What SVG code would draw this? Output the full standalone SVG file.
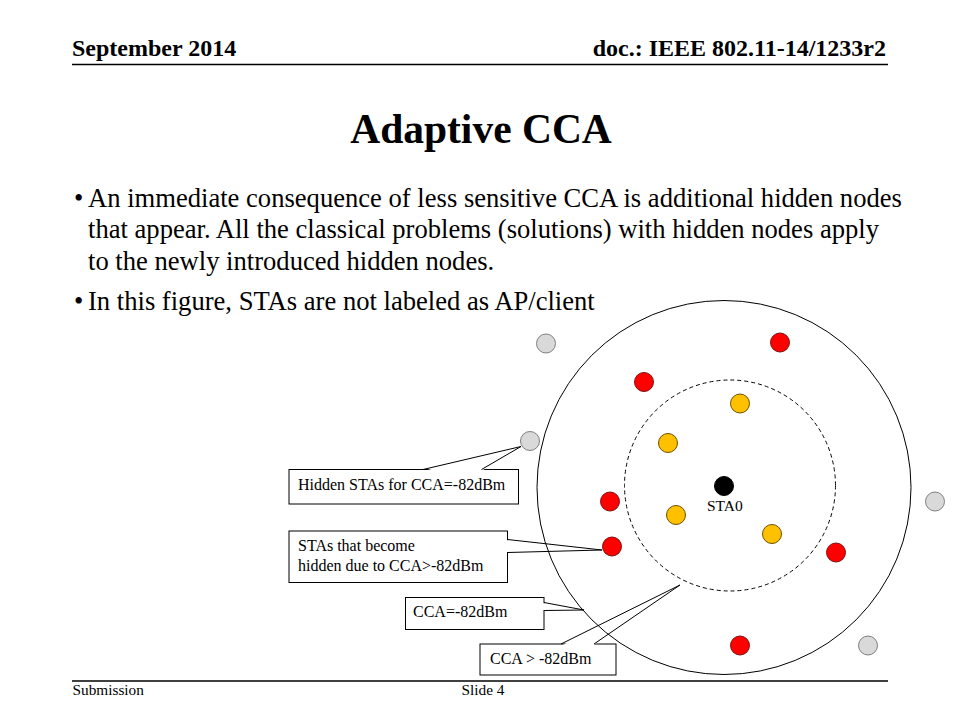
<svg xmlns="http://www.w3.org/2000/svg" width="960" height="720" viewBox="0 0 960 720">
<defs>
<style>
.serif{font-family:"Liberation Serif","Times New Roman",serif;fill:#000}
.hdr{font-size:24px;font-weight:bold}
.title{font-size:41.5px;font-weight:bold}
.body{font-size:26.6px}
.lbl{font-size:16px}
.foot{font-size:15.3px}
.rule{stroke:#000;stroke-width:1.5;fill:none}
.box{fill:#fff;stroke:#000;stroke-width:1}
.ptr{fill:none;stroke:#000;stroke-width:1}
.wedge{fill:#fff;stroke:none}
.red{fill:#FF0000;stroke:#7F1010;stroke-width:1}
.yel{fill:#FFC000;stroke:#6B5200;stroke-width:1}
.gry{fill:#D9D9D9;stroke:#7F7F7F;stroke-width:1}
.blk{fill:#000;stroke:#000;stroke-width:1}
.ring{fill:none;stroke:#000;stroke-width:1}
.dash{fill:none;stroke:#000;stroke-width:1;stroke-dasharray:4 3}
</style>
</defs>
<rect width="960" height="720" fill="#fff"/>

<g id="header">
<text class="serif hdr" x="72" y="56">September 2014</text>
<text class="serif hdr" x="886" y="56" text-anchor="end">doc.: IEEE 802.11-14/1233r2</text>
<line class="rule" x1="72" y1="64.5" x2="888" y2="64.5"/>
</g>

<g id="title">
<text class="serif title" x="481" y="143" text-anchor="middle">Adaptive CCA</text>
</g>

<g id="bullets">
<text class="serif body" x="74" y="206.5">•</text>
<text class="serif body" x="88" y="206.5">An immediate consequence of less sensitive CCA is additional hidden nodes</text>
<text class="serif body" x="88" y="238">that appear. All the classical problems (solutions) with hidden nodes apply</text>
<text class="serif body" x="88" y="270">to the newly introduced hidden nodes.</text>
<text class="serif body" x="74" y="310">•</text>
<text class="serif body" x="88" y="310">In this figure, STAs are not labeled as AP/client</text>
</g>

<g id="callout-hidden">
<rect class="box" x="289" y="469.5" width="229.5" height="34.5"/>
<text class="serif lbl" x="298" y="489.5">Hidden STAs for CCA=-82dBm</text>
</g>
<g id="callout-become">
<rect class="box" x="289" y="531" width="218.5" height="51.5"/>
<text class="serif lbl" x="298" y="551">STAs that become</text>
<text class="serif lbl" x="298" y="571">hidden due to CCA&gt;-82dBm</text>
</g>
<g id="callout-cca">
<rect class="box" x="405.5" y="597.5" width="138.5" height="32"/>
<text class="serif lbl" x="413" y="617">CCA=-82dBm</text>
</g>
<g id="callout-ccagt">
<rect class="box" x="480" y="644" width="136" height="31"/>
<text class="serif lbl" x="490" y="664">CCA &gt; -82dBm</text>
</g>

<g id="connectors">
<polygon class="wedge" points="423.5,471 521,446.5 481.5,471"/>
<polyline class="ptr" points="423,469.5 521,446.5 481.5,469.5"/>
<polygon class="wedge" points="506,540 602,550 506,552"/>
<polyline class="ptr" points="507.5,539.5 602,550 507.5,552.5"/>
<polygon class="wedge" points="542.5,603 584,610 542.5,610"/>
<polyline class="ptr" points="544,602.5 584,610 544,610.5"/>
<polygon class="wedge" points="562,645.5 680,585 593,645.5"/>
<polyline class="ptr" points="561,644 680,585 594,644"/>
</g>

<g id="range-cca">
<circle class="ring" cx="724" cy="487.5" r="187"/>
</g>
<g id="range-ccagt">
<circle class="dash" cx="730" cy="485.5" r="105.5"/>
</g>

<g id="sta0">
<circle class="blk" cx="724" cy="486" r="9.5"/>
<text class="serif" font-size="15.5" x="707" y="511">STA0</text>
</g>

<g id="sta-grey-1"><circle class="gry" cx="546" cy="343.5" r="9.5"/></g>
<g id="sta-grey-2"><circle class="gry" cx="530" cy="441" r="9.5"/></g>
<g id="sta-grey-3"><circle class="gry" cx="935" cy="501.5" r="9.5"/></g>
<g id="sta-grey-4"><circle class="gry" cx="868" cy="645.5" r="9.5"/></g>

<g id="sta-red-1"><circle class="red" cx="780" cy="342.5" r="9.5"/></g>
<g id="sta-red-2"><circle class="red" cx="644" cy="382" r="9.5"/></g>
<g id="sta-red-3"><circle class="red" cx="610" cy="501.5" r="9.5"/></g>
<g id="sta-red-4"><circle class="red" cx="612" cy="546.5" r="9.5"/></g>
<g id="sta-red-5"><circle class="red" cx="836" cy="552.5" r="9.5"/></g>
<g id="sta-red-6"><circle class="red" cx="740" cy="645.5" r="9.5"/></g>

<g id="sta-yellow-1"><circle class="yel" cx="740" cy="403.5" r="9.5"/></g>
<g id="sta-yellow-2"><circle class="yel" cx="668" cy="443" r="9.5"/></g>
<g id="sta-yellow-3"><circle class="yel" cx="676" cy="515" r="9.5"/></g>
<g id="sta-yellow-4"><circle class="yel" cx="772" cy="534" r="9.5"/></g>

<g id="footer">
<line class="rule" x1="72" y1="681" x2="888" y2="681"/>
<text class="serif foot" x="72.5" y="695">Submission</text>
<text class="serif foot" x="461.5" y="695">Slide 4</text>
</g>
</svg>
